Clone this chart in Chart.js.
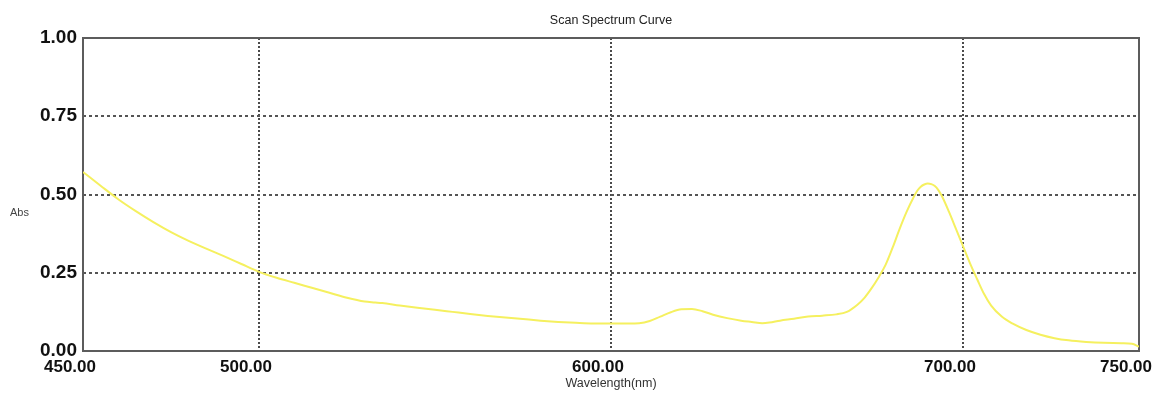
<!DOCTYPE html>
<html>
<head>
<meta charset="utf-8">
<script src="https://cdn.jsdelivr.net/npm/chart.js@4/dist/chart.umd.min.js"></script>
<style>
    html, body { margin: 0; padding: 0; background: #fff; }
    #wrap { width: 1154px; height: 394px; }
</style>
</head>
<body>
<div id="wrap"><canvas id="spectrum" width="1154" height="394"></canvas></div>
<script>
// scan data: wavelength (nm) and absorbance
const wavelengths = [
    450, 455, 460, 465, 470, 475, 480, 485, 490, 495,
    500, 505, 510, 515, 520, 525, 530, 533, 535, 540,
    545, 550, 555, 560, 565, 570, 575, 580, 585, 590,
    595, 600, 605, 608, 611, 614, 617, 620, 623, 626,
    629, 633, 637, 640, 643, 645, 648, 652, 656, 660,
    664, 667, 670, 672, 674, 676, 678, 680, 682, 684,
    686, 687, 688, 689, 690, 691, 692, 693, 694, 696,
    698, 700, 702, 704, 706, 708, 711, 714, 718, 722,
    726, 730, 735, 740, 745, 748, 750
];
const absorbance = [
    0.572, 0.528, 0.485, 0.447, 0.412, 0.380, 0.352, 0.327, 0.303, 0.278,
    0.253, 0.234, 0.218, 0.202, 0.186, 0.170, 0.158, 0.155, 0.153, 0.145,
    0.138, 0.132, 0.125, 0.118, 0.112, 0.107, 0.102, 0.097, 0.093, 0.090,
    0.088, 0.088, 0.088, 0.089, 0.096, 0.110, 0.124, 0.133, 0.134, 0.127,
    0.116, 0.105, 0.097, 0.093, 0.089, 0.091, 0.097, 0.103, 0.110, 0.113,
    0.117, 0.125, 0.148, 0.170, 0.200, 0.235, 0.275, 0.330, 0.390, 0.445,
    0.492, 0.512, 0.525, 0.532, 0.535, 0.533, 0.527, 0.514, 0.495, 0.445,
    0.390, 0.335, 0.280, 0.230, 0.182, 0.145, 0.110, 0.088, 0.067, 0.052,
    0.041, 0.034, 0.029, 0.026, 0.025, 0.023, 0.014
];
const xTickValues = [450, 500, 600, 700, 750];
const yTickValues = [0, 0.25, 0.5, 0.75, 1];

const points = wavelengths.map((w, i) => ({ x: w, y: absorbance[i] }));

// frame around the plot + unrotated "Abs" label
const extras = {
    id: 'extras',
    beforeDatasetsDraw(chart) {
        const { ctx, chartArea: a } = chart;
        ctx.save();
        ctx.strokeStyle = '#5c5c5c';
        ctx.lineWidth = 2;
        ctx.strokeRect(a.left, a.top, a.right - a.left, a.bottom - a.top);
        ctx.restore();
    },
    afterDraw(chart) {
        const { ctx } = chart;
        ctx.save();
        ctx.font = '11px "Liberation Sans", Arial, sans-serif';
        ctx.fillStyle = '#444';
        ctx.textBaseline = 'middle';
        ctx.fillText('Abs', 10, 213);
        ctx.restore();
    }
};

const edgeX = v => v === 450 || v === 750;
const edgeY = v => v === 0 || v === 1;

new Chart(document.getElementById('spectrum'), {
    type: 'line',
    data: {
        datasets: [{
            data: points,
            borderColor: 'rgb(245, 240, 95)',
            borderWidth: 2,
            pointRadius: 0,
            fill: false,
            cubicInterpolationMode: 'monotone'
        }]
    },
    options: {
        responsive: false,
        animation: false,
        layout: { padding: { top: 0, right: 15, bottom: 0, left: 0 } },
        plugins: {
            legend: { display: false },
            tooltip: { enabled: false },
            title: {
                display: true,
                text: 'Scan Spectrum Curve',
                fullSize: false,
                color: '#222',
                font: { family: '"Liberation Sans", Arial, sans-serif', size: 12.5, weight: 'normal' },
                padding: { top: 13, bottom: 10 }
            }
        },
        scales: {
            x: {
                type: 'linear',
                min: 450,
                max: 750,
                afterBuildTicks: s => { s.ticks = xTickValues.map(v => ({ value: v })); },
                afterFit: s => { s.height = 43; s.paddingLeft = 0; s.paddingRight = 0; },
                ticks: {
                    callback: v => v.toFixed(2),
                    color: '#111',
                    font: { family: '"Liberation Sans", Arial, sans-serif', size: 17, weight: 'bold' },
                    padding: 6,
                    labelOffset: -13,
                    maxRotation: 0,
                    autoSkip: false
                },
                grid: {
                    drawTicks: false,
                    color: c => edgeX(c.tick && c.tick.value) ? 'rgba(0,0,0,0)' : '#4a4a4a',
                    lineWidth: 2
                },
                border: { display: false, dash: [2, 2] },
                title: {
                    display: true,
                    text: 'Wavelength(nm)',
                    color: '#333',
                    font: { family: '"Liberation Sans", Arial, sans-serif', size: 12.5 },
                    padding: { top: 0, bottom: 3 }
                }
            },
            y: {
                min: 0,
                max: 1,
                afterBuildTicks: s => { s.ticks = yTickValues.map(v => ({ value: v })); },
                afterFit: s => { s.width = 83; },
                ticks: {
                    callback: v => v.toFixed(2),
                    color: '#111',
                    font: { family: '"Liberation Sans", Arial, sans-serif', size: 19, weight: 'bold' },
                    padding: 6
                },
                grid: {
                    drawTicks: false,
                    color: c => edgeY(c.tick && c.tick.value) ? 'rgba(0,0,0,0)' : '#555',
                    lineWidth: 2
                },
                border: { display: false, dash: [3, 3] }
            }
        }
    },
    plugins: [extras]
});
</script>
</body>
</html>
